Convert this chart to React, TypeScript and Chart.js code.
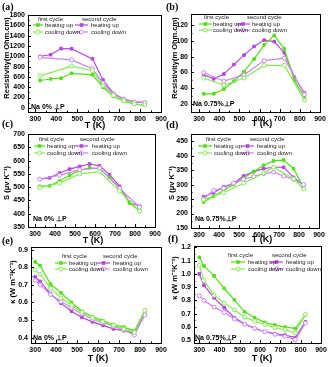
import React, { useEffect, useRef } from 'react';
import { Chart, registerables } from 'chart.js';
Chart.register(...registerables);

const W = 331;
const H = 367;
const XH = 14;

// temperatures
const T_RHO = [323, 373, 423, 473, 523, 573, 623, 673, 723, 773, 823];
const T_KAPPA = [300, 323, 373, 423, 473, 523, 573, 623, 673, 723, 773, 823];
const X_TICKS = [300, 400, 500, 600, 700, 800, 900];

// (a) resistivity, Na 0%
const A_HEAT1 = [530, 560, 575, 670, null, 640, 400, 220, 130, 70, 50];
const A_COOL1 = [620, null, null, 810, null, 720, 430, 240, 140, 80, 60];
const A_HEAT2 = [1000, 1030, 1150, 1145, null, 950, 540, 280, 170, 110, 100];
const A_COOL2 = [980, null, null, 930, null, 760, 480, 270, 170, 115, 105];
const A_YTICKS = [0, 200, 400, 600, 800, 1000, 1200, 1400, 1600, 1800];

// (b) resistivity, Na 0.75%
const B_HEAT1 = [33, 33, 39, 49, 61, 77, 95, 107, 90, 50, 28];
const B_COOL1 = [53, null, 44, null, 53, null, 69, null, 69, null, 25];
const B_HEAT2 = [57, 52, 58, 70, 82, 93, 101, 99, 85, 54, 34];
const B_COOL2 = [60, null, 49, null, 57, null, 75, null, 78, null, 32];
const B_YTICKS = [20, 40, 60, 80, 100, 120];

// (c) Seebeck, Na 0%
const C_HEAT1 = [503, 505, 523, 545, 563, 573, 570, 537, 495, 440, 410];
const C_COOL1 = [498, null, 515, null, 550, null, 558, null, 485, null, 410];
const C_HEAT2 = [530, 535, 553, 568, 578, 587, 580, 547, 503, 443, 428];
const C_COOL2 = [530, null, 545, null, 565, null, 572, null, 495, null, 425];
const C_YTICKS = [350, 400, 450, 500, 550, 600, 650, 700];

// (d) Seebeck, Na 0.75%
const D_HEAT1 = [240, 260, 280, 300, 322, 345, 367, 382, 385, 355, 290];
const D_COOL1 = [248, null, 272, null, 305, null, 340, 360, null, 320, 285];
const D_HEAT2 = [258, 272, 292, 305, 330, 345, 355, 360, 360, 325, 300];
const D_COOL2 = [250, 280, 288, 305, 318, 328, 338, 343, 330, 318, 300];
const D_YTICKS = [150, 200, 250, 300, 350, 400, 450];

// (e) thermal conductivity, Na 0%
const E_HEAT1 = [0.83, 0.81, 0.705, 0.655, 0.6, 0.55, 0.52, 0.497, 0.475, 0.46, 0.44, 0.555];
const E_COOL1 = [0.785, 0.76, 0.68, 0.625, 0.585, 0.545, 0.515, 0.49, 0.47, 0.45, 0.43, 0.555];
const E_HEAT2 = [0.745, 0.72, 0.65, 0.595, 0.55, 0.515, 0.49, 0.47, 0.45, 0.44, 0.425, 0.535];
const E_COOL2 = [0.725, 0.7, 0.645, 0.605, 0.57, 0.535, 0.505, 0.485, 0.465, 0.445, 0.415, 0.53];
const E_YTICKS = [0.4, 0.5, 0.6, 0.7, 0.8, 0.9];

// (f) thermal conductivity, Na 0.75%
const F_HEAT1 = [1.125, 1.06, 0.985, 0.89, 0.805, 0.715, 0.67, 0.635, 0.615, 0.6, 0.59, 0.69];
const F_COOL1 = [1.065, 0.95, 0.84, 0.78, 0.73, 0.675, 0.645, 0.62, 0.595, 0.58, 0.555, 0.695];
const F_HEAT2 = [1.0, 0.915, 0.82, 0.745, 0.67, 0.625, 0.59, 0.565, 0.55, 0.54, 0.52, 0.64];
const F_COOL2 = [0.835, 0.8, 0.75, 0.71, 0.66, 0.62, 0.59, 0.565, 0.545, 0.53, 0.505, 0.63];
const F_YTICKS = [0.5, 0.6, 0.7, 0.8, 0.9, 1.0, 1.1, 1.2];

const G_HEAT = '#55dd1a';
const G_COOL = '#86ea55';
const P_HEAT = '#b446e0';
const P_COOL = '#c886ee';

const SANS = 'Arial, "Liberation Sans", sans-serif';
const SERIF = '"Times New Roman", "Liberation Serif", serif';

type Leg = { hy: number; r1: number; r2: number; h1: number; h2: number; g0: number; g1: number; gt: number; p0: number; p1: number; pt: number };
type Panel = {
  id: string; col: number;
  label: string; labelPos: [number, number];
  area: { l: number; r: number; t: number; b: number };
  xMin: number; xMax: number; yMin: number; yMax: number;
  temps: number[]; heat1: (number | null)[]; cool1: (number | null)[]; heat2: (number | null)[]; cool2: (number | null)[];
  yTicks: number[]; yDec: number;
  yTitle: string; yTitlePos: [number, number];
  xTitlePos: [number, number];
  leg: Leg;
  note: string; notePos: [number, number];
};

const RHO_TITLE = 'Resistivity(m Ohm.cm)';
const S_TITLE = 'S (\u03bcv K\u207b\u00b9)';
const K_TITLE = '\u03ba (W m\u207b\u00b9K\u207b\u00b9)';

const PANELS: Panel[] = [
  {
    id: 'a', col: 0, label: '(a)', labelPos: [2, 7],
    area: { l: 28, r: 161, t: 15, b: 112 }, xMin: 265, xMax: 900, yMin: -80, yMax: 1800,
    temps: T_RHO, heat1: A_HEAT1, cool1: A_COOL1, heat2: A_HEAT2, cool2: A_COOL2,
    yTicks: A_YTICKS, yDec: 0, yTitle: RHO_TITLE, yTitlePos: [7, 58], xTitlePos: [95, 126],
    leg: { hy: 19, r1: 25, r2: 32, h1: 38, h2: 82, g0: 33, g1: 43, gt: 45, p0: 75, p1: 88, pt: 91 },
    note: 'Na 0% \u22a5P', notePos: [31, 107],
  },
  {
    id: 'b', col: 165, label: '(b)', labelPos: [166, 7],
    area: { l: 191, r: 320, t: 14, b: 112 }, xMin: 260, xMax: 900, yMin: 10, yMax: 134,
    temps: T_RHO, heat1: B_HEAT1, cool1: B_COOL1, heat2: B_HEAT2, cool2: B_COOL2,
    yTicks: B_YTICKS, yDec: 0, yTitle: RHO_TITLE, yTitlePos: [175, 58], xTitlePos: [262, 124],
    leg: { hy: 17, r1: 24, r2: 30, h1: 204, h2: 247, g0: 199, g1: 212, gt: 213, p0: 236, p1: 250, pt: 252 },
    note: 'Na 0.75%\u22a5P', notePos: [193, 104],
  },
  {
    id: 'c', col: 0, label: '(c)', labelPos: [2, 124],
    area: { l: 28, r: 155, t: 134, b: 227 }, xMin: 265, xMax: 900, yMin: 350, yMax: 700,
    temps: T_RHO, heat1: C_HEAT1, cool1: C_COOL1, heat2: C_HEAT2, cool2: C_COOL2,
    yTicks: C_YTICKS, yDec: 0, yTitle: S_TITLE, yTitlePos: [7, 183], xTitlePos: [93, 241],
    leg: { hy: 139, r1: 146, r2: 153, h1: 39, h2: 80, g0: 34, g1: 45, gt: 47, p0: 75, p1: 88, pt: 92 },
    note: 'Na 0% \u22a5P', notePos: [33, 219],
  },
  {
    id: 'd', col: 165, label: '(d)', labelPos: [166, 125],
    area: { l: 191, r: 319, t: 134, b: 228 }, xMin: 260, xMax: 900, yMin: 150, yMax: 475,
    temps: T_RHO, heat1: D_HEAT1, cool1: D_COOL1, heat2: D_HEAT2, cool2: D_COOL2,
    yTicks: D_YTICKS, yDec: 0, yTitle: S_TITLE, yTitlePos: [172, 183], xTitlePos: [262, 240],
    leg: { hy: 139, r1: 146, r2: 153, h1: 206, h2: 250, g0: 198, g1: 212, gt: 214, p0: 241, p1: 254, pt: 257 },
    note: 'Na 0.75%\u22a5P', notePos: [195, 219],
  },
  {
    id: 'e', col: 0, label: '(e)', labelPos: [2, 241],
    area: { l: 31, r: 161, t: 247, b: 343 }, xMin: 280, xMax: 900, yMin: 0.37, yMax: 0.915,
    temps: T_KAPPA, heat1: E_HEAT1, cool1: E_COOL1, heat2: E_HEAT2, cool2: E_COOL2,
    yTicks: E_YTICKS, yDec: 1, yTitle: K_TITLE, yTitlePos: [13, 282], xTitlePos: [98, 359],
    leg: { hy: 256, r1: 263, r2: 269, h1: 62, h2: 103, g0: 55, g1: 67, gt: 69, p0: 97, p1: 110, pt: 113 },
    note: 'Na 0% \u22a5P', notePos: [33, 338],
  },
  {
    id: 'f', col: 165, label: '(f)', labelPos: [168, 239],
    area: { l: 194, r: 321, t: 246, b: 343 }, xMin: 274, xMax: 900, yMin: 0.48, yMax: 1.21,
    temps: T_KAPPA, heat1: F_HEAT1, cool1: F_COOL1, heat2: F_HEAT2, cool2: F_COOL2,
    yTicks: F_YTICKS, yDec: 1, yTitle: K_TITLE, yTitlePos: [175, 278], xTitlePos: [262, 359],
    leg: { hy: 255, r1: 262, r2: 269, h1: 228, h2: 272, g0: 231, g1: 245, gt: 248, p0: 270, p1: 283, pt: 286 },
    note: 'Na 0.75%\u22a5P', notePos: [195, 338],
  },
];

function drawMarker(ctx: CanvasRenderingContext2D, x: number, y: number, color: string, heating: boolean) {
  ctx.save();
  ctx.strokeStyle = color;
  ctx.fillStyle = heating ? color : '#fff';
  ctx.lineWidth = 1;
  if (heating) {
    ctx.fillRect(x - 1.8, y - 1.8, 3.6, 3.6);
  } else {
    ctx.beginPath();
    ctx.arc(x, y, 2, 0, Math.PI * 2);
    ctx.fill();
    ctx.stroke();
  }
  ctx.restore();
}

function makeDecor(p: Panel) {
  return {
    id: 'decor' + p.id,
    afterDraw(chart: any) {
      const ctx: CanvasRenderingContext2D = chart.ctx;
      const a = chart.chartArea;
      const xs = chart.scales.x;
      const ys = chart.scales.y;
      ctx.save();
      ctx.strokeStyle = '#000';
      ctx.lineWidth = 1;
      ctx.strokeRect(Math.round(a.left) + 0.5, Math.round(a.top) + 0.5, Math.round(a.right - a.left), Math.round(a.bottom - a.top));
      ctx.beginPath();
      X_TICKS.forEach((v, i) => {
        const px = Math.round(xs.getPixelForValue(v)) + 0.5;
        ctx.moveTo(px, a.bottom);
        ctx.lineTo(px, a.bottom - 3);
        if (i < X_TICKS.length - 1) {
          const mx = Math.round(xs.getPixelForValue((v + X_TICKS[i + 1]) / 2)) + 0.5;
          ctx.moveTo(mx, a.bottom);
          ctx.lineTo(mx, a.bottom - 1.5);
        }
      });
      p.yTicks.forEach((v, i) => {
        const py = Math.round(ys.getPixelForValue(v)) + 0.5;
        ctx.moveTo(a.left, py);
        ctx.lineTo(a.left + 3, py);
        if (i < p.yTicks.length - 1) {
          const my = Math.round(ys.getPixelForValue((v + p.yTicks[i + 1]) / 2)) + 0.5;
          ctx.moveTo(a.left, my);
          ctx.lineTo(a.left + 1.5, my);
        }
      });
      ctx.stroke();

      // legend
      const L = p.leg;
      ctx.fillStyle = '#222';
      ctx.font = `6px ${SANS}`;
      ctx.textBaseline = 'middle';
      ctx.textAlign = 'left';
      ctx.fillText('first cycle', L.h1, L.hy);
      ctx.fillText('second cycle', L.h2, L.hy);
      const rows: [number, string, string, string, boolean][] = [
        [L.r1, 'heating up', G_HEAT, P_HEAT, true],
        [L.r2, 'cooling down', G_COOL, P_COOL, false],
      ];
      rows.forEach(([y, txt, gc, pc, heat]) => {
        ctx.lineWidth = 1.2;
        ctx.strokeStyle = gc;
        ctx.beginPath();
        ctx.moveTo(L.g0, y);
        ctx.lineTo(L.g1, y);
        ctx.stroke();
        drawMarker(ctx, (L.g0 + L.g1) / 2, y, gc, heat);
        ctx.strokeStyle = pc;
        ctx.beginPath();
        ctx.moveTo(L.p0, y);
        ctx.lineTo(L.p1, y);
        ctx.stroke();
        drawMarker(ctx, (L.p0 + L.p1) / 2, y, pc, heat);
        ctx.fillStyle = '#222';
        ctx.fillText(txt, L.gt, y);
        ctx.fillText(txt, L.pt, y);
      });

      // note
      ctx.fillStyle = '#000';
      ctx.font = `bold 7px ${SANS}`;
      ctx.fillText(p.note, p.notePos[0], p.notePos[1]);

      // x title
      ctx.font = `bold 9px ${SANS}`;
      ctx.textAlign = 'center';
      ctx.fillText('T (K)', p.xTitlePos[0], p.xTitlePos[1]);

      // y title
      ctx.save();
      ctx.translate(p.yTitlePos[0], p.yTitlePos[1]);
      ctx.rotate(-Math.PI / 2);
      ctx.font = `bold 7.5px ${SANS}`;
      ctx.fillText(p.yTitle, 0, 0);
      ctx.restore();

      // panel label
      ctx.textAlign = 'left';
      ctx.font = `bold 10px ${SERIF}`;
      ctx.fillText(p.label, p.labelPos[0], p.labelPos[1]);
      ctx.restore();
    },
  };
}

function toPoints(temps: number[], vals: (number | null)[]) {
  const out: { x: number; y: number }[] = [];
  temps.forEach((t, i) => {
    const v = vals[i];
    if (v !== null && v !== undefined) out.push({ x: t, y: v });
  });
  return out;
}

function ds(temps: number[], vals: (number | null)[], color: string, heating: boolean) {
  return {
    data: toPoints(temps, vals),
    borderColor: color,
    backgroundColor: heating ? color : '#fff',
    borderWidth: 1.2,
    pointStyle: heating ? 'rect' : 'circle',
    pointRadius: heating ? 1.8 : 2,
    pointBorderWidth: 1,
    pointBorderColor: color,
    pointBackgroundColor: heating ? color : '#fff',
    tension: 0,
    fill: false,
  };
}

function PanelChart({ p }: { p: Panel }) {
  const ref = useRef<HTMLCanvasElement | null>(null);
  useEffect(() => {
    if (!ref.current) return;
    const tickFont = { size: 7, weight: 'bold' as const, family: SANS };
    const chart = new Chart(ref.current, {
      type: 'line',
      data: {
        datasets: [
          ds(p.temps, p.cool1, G_COOL, false),
          ds(p.temps, p.cool2, P_COOL, false),
          ds(p.temps, p.heat1, G_HEAT, true),
          ds(p.temps, p.heat2, P_HEAT, true),
        ] as any,
      },
      options: {
        animation: false,
        responsive: false,
        devicePixelRatio: 1,
        events: [],
        layout: {
          padding: { left: p.col, right: W - p.area.r, top: p.area.t, bottom: H - p.area.b - XH },
        },
        plugins: { legend: { display: false }, tooltip: { enabled: false } },
        scales: {
          x: {
            type: 'linear',
            position: 'bottom',
            min: p.xMin,
            max: p.xMax,
            afterBuildTicks: (s: any) => { s.ticks = X_TICKS.map((v) => ({ value: v })); },
            afterFit: (s: any) => { s.height = XH; },
            grid: { display: false, drawTicks: false, tickLength: 0 },
            border: { display: false },
            ticks: { font: tickFont, color: '#000', padding: 3, maxRotation: 0, autoSkip: false, callback: (v: any) => String(v) },
          },
          y: {
            type: 'linear',
            position: 'left',
            min: p.yMin,
            max: p.yMax,
            afterBuildTicks: (s: any) => { s.ticks = p.yTicks.map((v) => ({ value: v })); },
            afterFit: (s: any) => { s.width = p.area.l - p.col; },
            grid: { display: false, drawTicks: false, tickLength: 0 },
            border: { display: false },
            ticks: { font: tickFont, color: '#000', padding: 3, autoSkip: false, callback: (v: any) => Number(v).toFixed(p.yDec) },
          },
        },
      } as any,
      plugins: [makeDecor(p)],
    });
    return () => chart.destroy();
  }, [p]);
  return (
    <canvas
      ref={ref}
      width={W}
      height={H}
      style={{ position: 'absolute', left: 0, top: 0, width: W, height: H }}
    />
  );
}

export default function App() {
  return (
    <div style={{ position: 'fixed', left: 0, top: 0, width: W, height: H, background: '#fff', overflow: 'hidden' }}>
      {PANELS.map((p) => (
        <PanelChart key={p.id} p={p} />
      ))}
    </div>
  );
}
